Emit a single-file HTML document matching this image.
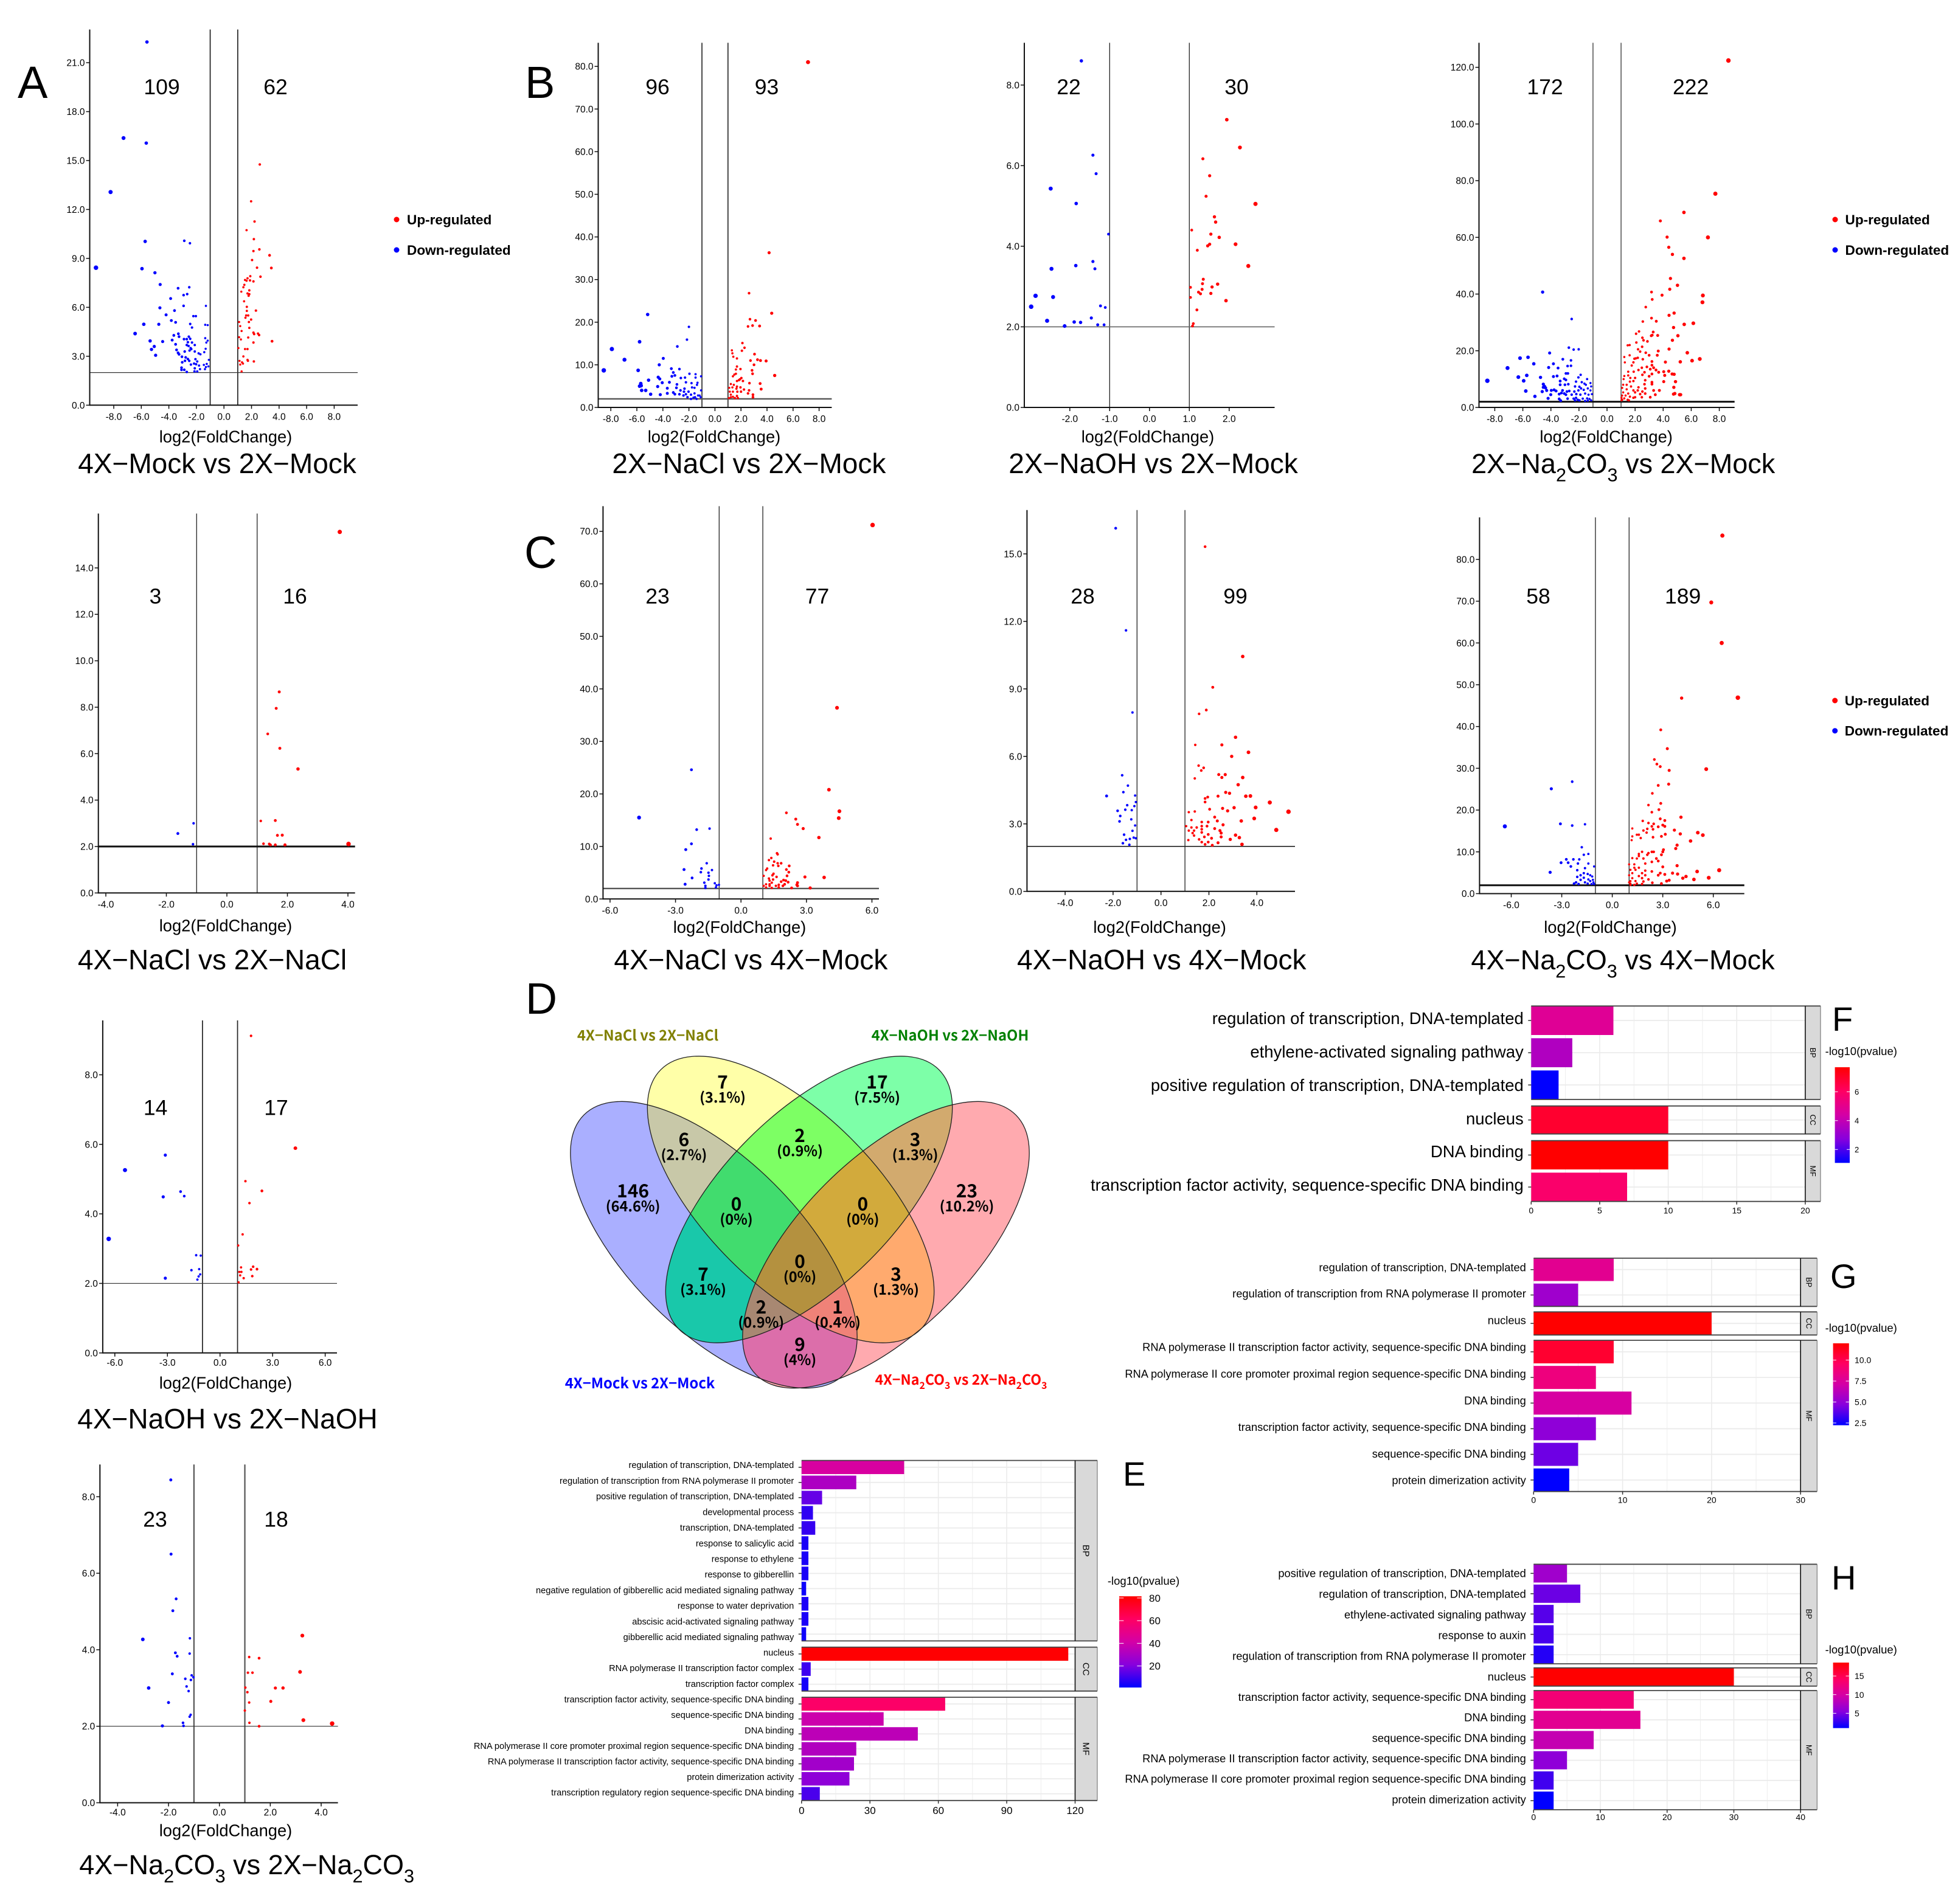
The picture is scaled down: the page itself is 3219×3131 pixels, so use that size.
<!DOCTYPE html>
<html lang="en">
<head>
<meta charset="utf-8">
<title>Volcano plots, Venn diagram and GO enrichment</title>
<style>
html,body{margin:0;padding:0;background:#fff;}
svg{display:block;}
text{font-family:"Liberation Sans",Arial,sans-serif;fill:#000;}
.venn text{font-family:"Noto Sans CJK KR","Liberation Sans",sans-serif;font-weight:700;}
</style>
</head>
<body>
<svg id="figure" xmlns="http://www.w3.org/2000/svg" width="3219" height="3131" viewBox="0 0 3219 3131">
<rect x="0" y="0" width="3219" height="3131" fill="#fff"></rect>
<defs id="defs"></defs>
</svg>
<script>
/* ---------- volcano data: [log2(FoldChange), -log10(p)] ---------- */
const volcanoA_down=[[-5.59,22.27],[-7.29,16.38],[-5.64,16.07],[-8.23,13.07],[-5.72,10.04],[-2.88,10.08],[-2.47,9.93],[-9.29,8.43],[-5.95,8.37],[-5.01,8.12],[-4.63,7.4],[-3.33,7.17],[-2.52,7.23],[-2.67,6.81],[-2.93,6.75],[-3.87,6.54],[-2.93,6.09],[-1.31,6.09],[-4.65,5.97],[-3.59,5.8],[-4.2,5.54],[-2.22,5.46],[-2.04,5.46],[-3.82,5.19],[-3.51,5.08],[-5.82,4.96],[-4.73,4.96],[-2.45,4.98],[-1.36,4.93],[-1.18,4.91],[-2.32,4.76],[-6.45,4.39],[-3.31,4.38],[-3.64,4.28],[-3.26,4.2],[-2.55,4.2],[-2.45,4.07],[-2.9,4.05],[-2.7,4.05],[-3.76,3.99],[-1.36,4.11],[-4.45,3.9],[-5.36,3.94],[-1.18,3.96],[-1.28,3.84],[-2.32,3.84],[-2.62,3.86],[-3.51,3.73],[-2.7,3.69],[-2.12,3.69],[-5.06,3.6],[-2.57,3.63],[-2.42,3.5],[-5.26,3.42],[-1.33,3.46],[-3.44,3.39],[-2.37,3.44],[-2.5,3.35],[-2.85,3.29],[-2.12,3.29],[-1.43,3.25],[-3.33,3.21],[-1.84,3.18],[-3.26,3.12],[-4.96,3.06],[-1.71,3.12],[-3.05,2.97],[-2.78,2.93],[-1.1,2.78],[-2.62,2.83],[-2.07,2.82],[-2.83,2.72],[-3.03,2.63],[-2.52,2.72],[-1.94,2.68],[-2.17,2.55],[-2.4,2.49],[-2.02,2.51],[-1.25,2.53],[-1.81,2.43],[-1.46,2.47],[-1.13,2.38],[-1.31,2.34],[-3.08,2.3],[-2.12,2.26],[-1.38,2.21],[-1.74,2.21],[-3.08,2.17],[-2.88,2.17],[-2.14,2.07],[-1.94,2.07],[-2.7,2.04]];
const volcanoA_up=[[2.6,14.76],[1.97,12.5],[2.22,11.26],[1.64,10.73],[2.17,10.18],[2.57,9.55],[2.14,9.45],[3.31,9.19],[2.04,8.9],[2.4,8.43],[3.44,8.41],[2.65,7.88],[1.91,7.91],[1.71,7.78],[1.53,7.68],[1.64,7.63],[1.89,7.65],[2.14,7.59],[1.48,7.38],[1.41,7.23],[1.26,6.96],[1.84,7.04],[1.71,6.85],[1.84,6.81],[1.79,6.71],[1.46,6.37],[1.66,6.03],[2.32,5.8],[1.66,5.78],[1.61,5.5],[1.76,5.5],[1.56,5.36],[1.97,5.25],[1.1,5.1],[1.81,5.1],[1.18,4.85],[1.84,4.74],[1.28,4.55],[2.14,4.45],[2.47,4.39],[2.19,4.36],[2.55,4.3],[1.1,4.17],[1.76,4.15],[1.23,4.03],[3.49,3.92],[2.14,3.84],[1.05,3.5],[1.53,3.44],[1.71,3.44],[1.41,2.99],[1.13,2.72],[1.71,2.78],[1.74,2.72],[2.17,2.68],[1.31,2.63],[1.18,2.49],[1.38,2.55],[1.28,2.07]];
const volcanoB1_down=[[-8.54,8.7],[-7.92,13.7],[-6.95,11.2],[-5.9,8.7],[-5.79,15.4],[-5.17,21.8],[-5.7,5.6],[-5.67,5.1],[-5.79,5],[-5.63,4],[-5.32,4],[-5.1,6.4],[-4.94,3.1],[-4.28,10],[-3.97,11.5],[-4.36,7.1],[-4.24,6.7],[-4.4,4.9],[-4.05,5.8],[-4.2,3],[-3.66,4.5],[-3.66,3.3],[-3.5,5.9],[-3.35,9.1],[-3.2,8.2],[-3.08,7.5],[-3.31,7.3],[-2.89,14.3],[-2.73,9],[-2.62,6.9],[-2.3,7],[-2.92,5.4],[-2.96,4.6],[-3.2,3.5],[-3.08,3.1],[-2.65,4],[-2.73,3.1],[-2.34,4.4],[-2.23,5.9],[-2.38,3.7],[-2.23,3.1],[-2.42,2.8],[-2.15,15.9],[-2,18.9],[-1.96,7.9],[-1.8,5.7],[-1.76,4.7],[-2.03,3.7],[-1.84,3],[-2.11,2.4],[-1.65,2.3],[-1.84,2],[-1.49,7.8],[-1.49,7],[-1.38,5.3],[-1.57,4.6],[-1.34,5.8],[-1.57,3.3],[-1.53,2.4],[-1.3,2.8],[-1.41,2],[-1.07,7.3],[-1.07,4],[-1.1,2.4],[-1.18,2.8]];
const volcanoB1_up=[[7.15,81],[4.16,36.3],[2.62,26.8],[4.36,22.1],[2.69,20.7],[3.12,20.4],[2.54,19],[2.89,19.2],[3.43,19.1],[2.11,15.1],[2.27,14],[1.3,13.4],[1.34,12.7],[1.41,11.9],[2.07,13.3],[3.04,12.5],[1.69,11.5],[2.73,11],[3.27,11.2],[3.5,11],[3.93,10.9],[3,10],[1.69,9.6],[1.61,8.9],[1.96,9],[2.85,8.7],[2.89,7.9],[4.59,7.5],[1.38,7.3],[1.49,7.7],[1.61,7.9],[3.47,5.6],[2.65,5.7],[1.92,6.6],[2.03,6.9],[1.69,6.2],[2.15,6.2],[1.84,6.4],[1.22,5.5],[1.45,5.3],[1.69,4.9],[1.1,4.6],[1.34,4.7],[1.65,4.4],[1.96,4.7],[2.23,4.2],[2.62,4],[3.55,4.3],[1.14,3.7],[1.38,3.7],[1.72,3.7],[2,3.7],[2.54,3.3],[2.92,3],[1.22,3],[1.69,2.7],[2.92,2.4],[1.22,2.4],[1.38,2.5],[1.76,2.2],[1.07,2.2],[1.53,2.2]];
const volcanoB2_down=[[-1.71,8.6],[-1.42,6.26],[-1.34,5.8],[-2.48,5.43],[-1.84,5.06],[-1.03,4.3],[-1.42,3.62],[-1.85,3.52],[-2.46,3.44],[-1.37,3.44],[-2.86,2.77],[-2.42,2.74],[-2.97,2.5],[-1.23,2.52],[-1.11,2.48],[-2.57,2.15],[-1.46,2.22],[-1.89,2.12],[-1.73,2.11],[-1.3,2.05],[-1.14,2.05],[-2.13,2.02]];
const volcanoB2_up=[[1.94,7.14],[2.27,6.45],[1.34,6.17],[1.51,5.75],[1.42,5.24],[2.66,5.05],[1.63,4.73],[1.66,4.6],[1.06,4.4],[1.54,4.3],[1.75,4.22],[2.16,4.05],[1.51,4.05],[1.46,4.01],[1.2,3.9],[2.48,3.51],[1.35,3.18],[1.33,3.07],[1.71,3.06],[1.57,2.99],[1.03,2.98],[1.32,2.93],[1.23,2.86],[1.28,2.82],[1.54,2.83],[1.03,2.73],[1.92,2.65],[1.19,2.42],[1.1,2.08],[1.08,2.02]];
const volcanoB3_down=[[-8.53,9.4],[-7.09,13.9],[-6.2,17.4],[-5.63,17.7],[-5.22,15.4],[-6.32,10.7],[-5.72,11.3],[-5.94,9.4],[-5.79,5.8],[-5.14,3.9],[-4.59,40.7],[-2.52,31.2],[-4.09,19.2],[-2.72,21.1],[-2.38,20.4],[-2.02,20.5],[-2.57,16.6],[-3.15,17],[-3.82,15.4],[-4.16,14.1],[-3.49,13.9],[-2.81,14.6],[-2.57,14.7],[-2.93,12],[-2.79,12],[-1.88,11.5],[-2.04,10.6],[-4.74,10.6],[-3.82,10.9],[-3.56,11.1],[-3.05,10.1],[-2.93,9.7],[-1.42,10],[-2.21,9.1],[-1.61,8.4],[-1.8,8.9],[-1.51,8],[-1.18,8.6],[-4.54,8.2],[-4.45,7.4],[-4.38,6.9],[-4.54,7.1],[-3.34,9.3],[-3.34,8],[-3,8],[-2.76,8.2],[-2.28,7.4],[-1.97,7.3],[-1.85,6.7],[-1.37,6.7],[-1.13,7.4],[-4.62,5.6],[-4.3,6],[-3.97,6],[-3.77,6.2],[-3.63,5.8],[-3.17,6],[-2.86,5.6],[-2.69,5.8],[-2.33,5.6],[-2.04,6],[-1.66,6.2],[-1.18,6],[-4.01,4.5],[-4.2,3.2],[-3.41,4.7],[-3.05,4.9],[-2.93,4.5],[-3.25,5.1],[-2.52,4.5],[-2.19,4.7],[-1.9,4.5],[-1.56,4.9],[-1.32,4.5],[-1.08,4.7],[-3.41,3],[-2.81,3.1],[-2.38,3.1],[-2.21,3.4],[-2.09,2.7],[-1.73,3.1],[-1.42,3.2],[-1.25,3],[-1.13,2.5],[-2.28,2.5],[-1.97,2.5],[-1.56,2.3],[-1.37,2.4],[-3.3,2.4]];
const volcanoB3_up=[[8.65,122.4],[7.72,75.4],[5.48,68.8],[3.8,65.8],[7.19,60],[4.28,60.1],[4.4,56.5],[4.66,54],[5.48,52.6],[4.52,45.5],[5.02,43.1],[4.47,41.7],[3.17,40.7],[3.92,39.6],[6.83,39.5],[3.22,38.1],[6.8,37.1],[2.76,35.4],[4.78,33.3],[4.42,32.5],[3.17,31.5],[2.55,30.3],[3.51,30.4],[5.5,29.3],[6.15,29.7],[4.74,28.2],[2.28,26.8],[2.07,26],[3.29,26.6],[3.22,25.5],[3.15,25.3],[3.61,25.4],[5.05,25.3],[2.52,24.6],[2.6,23.7],[2.88,23.3],[4.66,23.7],[2.09,22.9],[1.47,21.9],[1.61,22],[4.42,20.6],[2.5,21.4],[2.21,20.5],[2.36,19.7],[3.65,19.9],[5.72,19.3],[2.76,19.3],[3,18.4],[3.58,18.4],[1.61,18.4],[1.23,17.8],[2.04,17.3],[2.19,17.5],[1.95,17.2],[2.55,17],[6.61,17.1],[6.06,16.5],[5.22,16.1],[3.2,16.2],[4.16,16],[1.88,15.9],[1.27,15.9],[3.2,14.9],[1.76,14.8],[2.48,14],[2.84,14.3],[3.08,13.5],[3.32,14],[3.49,13.2],[4.4,12.8],[4.04,12.6],[4.64,11.8],[4.78,11.7],[1.51,12.6],[1.9,12.6],[2.24,13.2],[2.67,12.4],[3.68,12.4],[3.2,11.8],[2.52,11.5],[3,11],[4.11,11.3],[1.23,11.1],[1.51,11.3],[1.66,10.4],[2,10.4],[2.72,9.6],[3.2,8.9],[4.04,9.1],[4.88,9.1],[1.18,10],[1.63,9.1],[1.88,9.3],[2.67,8.2],[3.2,8.2],[4.76,7.1],[1.15,8],[1.4,8],[1.71,7.4],[2.24,7.1],[2.72,6.7],[3.32,6],[3.73,6],[1.08,6.9],[1.4,6.4],[1.88,6],[2.19,6],[2.52,5.6],[4.83,4.9],[4.74,4.7],[5.17,4.5],[5.24,4.5],[1.15,5.3],[1.51,4.9],[2,5.3],[2.36,4.7],[2.72,4.9],[3.08,3.6],[3.44,4.5],[1.08,4.2],[1.32,4.2],[1.63,3.8],[2,3.6],[2.48,3.6],[1.03,3.4],[1.23,3.2],[1.47,2.7],[1.88,3.4],[1.08,2.7],[1.56,2.5],[1.03,2.5]];
const volcanoC0_down=[[-1.62,2.56],[-1.1,3],[-1.12,2.1]];
const volcanoC0_up=[[3.73,15.55],[1.73,8.66],[1.63,7.95],[1.35,6.85],[1.75,6.23],[2.35,5.34],[1.6,3.12],[1.12,3.1],[1.83,2.49],[1.67,2.48],[1.21,2.12],[1.4,2.11],[1.44,2.07],[1.6,2.07],[1.92,2.07],[4.02,2.11]];
const volcanoC1_down=[[-4.67,15.5],[-2.27,24.6],[-1.44,13.4],[-2.03,13.2],[-2.27,10.5],[-2.53,9.4],[-1.57,6.8],[-1.81,5.8],[-2.61,5.6],[-1.33,5.5],[-1.84,5.1],[-1.49,5],[-1.47,4.4],[-2.24,4],[-1.49,3.7],[-1.68,3.1],[-1.2,3],[-2.56,2.8],[-1.01,2.7],[-1.12,2.6],[-1.63,2.5],[-1.63,2.1],[-1.15,2.2]];
const volcanoC1_up=[[6.03,71.2],[4.4,36.4],[4.03,20.8],[4.51,16.7],[4.48,15.4],[2.08,16.4],[2.51,15.2],[2.59,14.2],[2.85,13.4],[3.57,11.7],[1.36,11.5],[1.65,8.7],[1.68,8.5],[1.39,7.8],[1.28,7.4],[1.52,7.1],[1.84,6.8],[1.68,6.8],[1.47,6.4],[1.71,6.3],[2.21,6.3],[1.2,5.8],[1.15,5.5],[2.08,5.6],[2.19,5.1],[1.49,4.8],[1.44,4.5],[2.11,4.4],[1.04,4.4],[2.93,4.2],[3.81,4.1],[1.63,4.2],[1.28,3.9],[1.95,3.6],[1.47,3.7],[1.31,3.5],[1.84,3.3],[2.05,3.5],[1.41,3.1],[2.16,3.2],[2.59,3.1],[1.15,2.8],[1.31,2.8],[1.73,2.7],[2,2.8],[2.56,2.7],[1.04,2.5],[1.31,2.5],[1.6,2.5],[1.92,2.5],[2.59,2.5],[1.15,2.2],[1.41,2.1],[1.73,2.2],[2.32,2.1],[3.17,2.1]];
const volcanoC2_down=[[-1.89,16.14],[-1.46,11.6],[-1.19,7.95],[-1.62,5.16],[-1.38,4.7],[-1.57,4.41],[-2.27,4.24],[-1.08,4.26],[-1.05,3.97],[-1.41,3.83],[-1.11,3.79],[-1.81,3.58],[-1.49,3.63],[-1.22,3.61],[-1.7,3.35],[-1.24,3.2],[-1.73,3.11],[-1.08,2.93],[-1.19,2.69],[-1.54,2.52],[-1.3,2.33],[-1.46,2.29],[-1.14,2.39],[-1.05,2.36],[-1.59,2.14],[-1.32,2.07]];
const volcanoC2_up=[[1.84,15.32],[3.41,10.44],[2.16,9.07],[1.89,8.06],[1.59,7.89],[3.11,6.85],[1.43,6.51],[2.54,6.51],[3.65,6.18],[2.95,6],[1.57,5.59],[1.78,5.49],[1.68,5.37],[2.41,5.19],[2.68,5.19],[2.54,5.06],[3.41,5.06],[1.41,5.02],[3.22,4.74],[2.7,4.4],[2.86,4.36],[3.54,4.23],[3.73,4.24],[2.38,4.23],[1.95,4.19],[1.84,4.13],[1.84,3.97],[4.54,3.95],[3.95,3.73],[2.03,3.65],[3.05,3.72],[2.57,3.69],[2.78,3.58],[5.32,3.54],[1.16,3.52],[1.41,3.55],[2.24,3.3],[2.35,3.13],[3.89,3.24],[3.35,3.13],[1.27,3.17],[1.7,3.08],[1.97,3.08],[2.59,2.96],[1.05,2.9],[1.27,2.84],[1.49,2.84],[1.7,2.9],[1.92,2.9],[1.16,2.7],[1.38,2.7],[1.7,2.76],[2.24,2.79],[2.46,2.7],[4.81,2.73],[1.32,2.59],[1.7,2.62],[2.51,2.59],[1.38,2.48],[1.97,2.53],[3.11,2.5],[2.51,2.42],[1.81,2.42],[3.27,2.39],[1.14,2.28],[1.59,2.31],[2.11,2.36],[2.89,2.31],[2.38,2.16],[1.7,2.19],[1.97,2.19],[1.84,2.09],[3.38,2.09],[2.14,2.05]];
const volcanoC3_down=[[-6.38,16.1],[-3.62,25.1],[-2.38,26.8],[-3.08,16.7],[-2.38,16.3],[-1.62,16.6],[-1.81,11.1],[-1.42,9.5],[-1.69,9.3],[-2.73,8.2],[-2.31,8.2],[-1.96,8.2],[-3.04,7.4],[-2.62,7.4],[-2.04,7.2],[-2.46,6.5],[-1.42,7.2],[-1.08,6.5],[-1.62,6.1],[-2.08,5.6],[-3.69,5.1],[-1.69,4.9],[-1.46,4.7],[-1.88,4.4],[-1.31,4.4],[-2.08,4],[-1.69,3.8],[-1.19,4.1],[-1.88,3.3],[-1.42,3.4],[-1.15,3.3],[-2.15,2.7],[-1.62,2.7],[-1.31,3],[-1.12,2.7],[-2.27,2.4],[-2,2.3],[-1.46,2.4],[-1.23,2.3],[-1.08,2.3]];
const volcanoC3_up=[[6.54,85.7],[5.88,69.7],[6.5,60],[7.46,46.9],[4.12,46.8],[2.88,39.2],[3.27,34.7],[2.5,32.1],[2.65,31],[2.85,30.4],[3.38,29.5],[5.58,29.8],[3.35,26.2],[2.73,25.9],[2.38,24],[2.88,21.6],[2.15,21.2],[2.77,20.1],[4.08,18.3],[2.35,19.5],[1.81,17.4],[2.85,17.9],[3.12,17.5],[2.15,16.9],[2.46,16.7],[1.19,15.6],[3,16.4],[3.12,16.1],[2.73,16],[2.35,16.1],[2.08,15.5],[1.85,15.1],[3.69,15.2],[2.42,15.4],[1.58,14.1],[2.04,14.6],[5.08,14.6],[4.04,14.3],[3.15,14.2],[5.38,14],[1.46,14.1],[1.19,13.7],[2.42,13.5],[2.92,13.7],[1.69,13.3],[1.15,12.8],[4.65,12.6],[3.85,11.6],[3.77,10.8],[3.04,10.5],[3,10],[2.35,10],[2.15,9.7],[1.77,10],[1.58,9.5],[2.46,10],[2.08,9.3],[1.58,9],[2.92,9.3],[1.19,8.5],[1.46,8.4],[1.85,8.4],[2.62,8.4],[2.73,7.8],[2.35,7.6],[1.96,7.2],[1.31,7],[1,7],[3.85,6.7],[3,6.4],[1.31,6.2],[1.58,6.2],[1.08,5.7],[6.35,5.6],[5.04,5.3],[1.96,5.5],[2.35,5.3],[1.38,5.7],[1.19,4.9],[1.77,4.9],[2.85,4.9],[3.58,4.9],[3.88,4.7],[3.12,4.6],[1,4.4],[1.58,4.2],[1.96,4.4],[2.73,4.4],[4.38,4.1],[5.73,3.8],[4.19,3.7],[4.85,3.4],[1.19,3.7],[1.77,3.7],[2.15,3.4],[3.23,3],[1.08,3],[1.38,3],[1.85,2.9],[2.38,2.6],[2.92,2.4],[3.38,3.2],[1.08,2.4],[1.46,2.4],[1.77,2.3],[1,2.7],[1.08,2.1],[1.31,2.1]];
const volcanoD0_down=[[-6.35,3.28],[-5.42,5.26],[-3.12,5.69],[-3.24,4.49],[-2.25,4.64],[-2.04,4.51],[-3.12,2.15],[-1.36,2.81],[-1.1,2.8],[-1.63,2.38],[-1.19,2.41],[-1.13,2.26],[-1.22,2.2],[-1.29,2.11]];
const volcanoD0_up=[[1.77,9.12],[4.3,5.89],[1.45,4.94],[2.39,4.66],[1.68,4.31],[1.29,3.41],[1.04,3.09],[1.2,2.46],[1.89,2.48],[2.11,2.41],[1.77,2.4],[1.1,2.33],[1.22,2.33],[1.15,2.23],[1.84,2.21],[1.35,2.15],[1.06,2.03]];
const volcanoD1_down=[[-1.91,8.44],[-1.9,6.5],[-1.7,5.33],[-1.83,5.02],[-3.01,4.27],[-1.16,4.3],[-1.17,3.9],[-1.73,3.92],[-1.66,3.83],[-1.85,3.37],[-1.09,3.33],[-1.02,3.28],[-1.12,3.21],[-1.34,3.24],[-1.29,3.04],[-2.78,3],[-1.21,2.92],[-2,2.62],[-1.13,2.3],[-1.17,2.25],[-1.43,2.09],[-1.41,2.01],[-2.24,2.01]];
const volcanoD1_up=[[3.26,4.37],[1.17,3.81],[1.56,3.78],[1.12,3.4],[1.3,3.4],[3.17,3.42],[1.02,3.01],[2.2,3],[2.5,3],[1.1,2.89],[1.17,2.62],[2.02,2.65],[1,2.41],[3.3,2.16],[1.18,2.09],[4.43,2.07],[1.56,2]];

/* ---------- tick labels ---------- */
const ticksX8=[-8,-6,-4,-2,0,2,4,6,8];
const ticksX6=[-6,-3,0,3,6];
const ticksX4=[-4,-2,0,2,4];
const ticksXB2=[-2,-1,0,1,2];
const ticksYA=[0,3,6,9,12,15,18,21];
const ticksYB1=[0,10,20,30,40,50,60,70,80];
const ticksYB2=[0,2,4,6,8];
const ticksYB3=[0,20,40,60,80,100,120];
const ticksYC0=[0,2,4,6,8,10,12,14];
const ticksYC1=[0,10,20,30,40,50,60,70];
const ticksYC2=[0,3,6,9,12,15];
const ticksYC3=[0,10,20,30,40,50,60,70,80];

/* ---------- GO enrichment data ---------- */
const barE_termsBP=["regulation of transcription, DNA-templated","regulation of transcription from RNA polymerase II promoter","positive regulation of transcription, DNA-templated","developmental process","transcription, DNA-templated","response to salicylic acid","response to ethylene","response to gibberellin","negative regulation of gibberellic acid mediated signaling pathway","response to water deprivation","abscisic acid-activated signaling pathway","gibberellic acid mediated signaling pathway"];
const barE_countsBP=[45,24,9,5,6,3,3,3,2,3,3,2];
const barE_pBP=[43,31,16,8,9,5,5,5,3,5,5,3];
const barE_termsCC=["nucleus","RNA polymerase II transcription factor complex","transcription factor complex"];
const barE_countsCC=[117,4,3];
const barE_pCC=[81,10,4];
const barE_termsMF=["transcription factor activity, sequence-specific DNA binding","sequence-specific DNA binding","DNA binding","RNA polymerase II core promoter proximal region sequence-specific DNA binding","RNA polymerase II transcription factor activity, sequence-specific DNA binding","protein dimerization activity","transcription regulatory region sequence-specific DNA binding"];
const barE_countsMF=[63,36,51,24,23,21,8];
const barE_pMF=[60,39,35,32,28,23,12];
const barF_termsBP=["regulation of transcription, DNA-templated","ethylene-activated signaling pathway","positive regulation of transcription, DNA-templated"];
const barF_countsBP=[6,3,2];
const barF_pBP=[4.8,3.6,1.07];
const barF_termsCC=["nucleus"];
const barF_countsCC=[10];
const barF_pCC=[6.9];
const barF_termsMF=["DNA binding","transcription factor activity, sequence-specific DNA binding"];
const barF_countsMF=[10,7];
const barF_pMF=[7.7,5.85];
const barG_termsBP=["regulation of transcription, DNA-templated","regulation of transcription from RNA polymerase II promoter"];
const barG_countsBP=[9,5];
const barG_pBP=[7.9,5.4];
const barG_termsCC=["nucleus"];
const barG_countsCC=[20];
const barG_pCC=[12];
const barG_termsMF=["RNA polymerase II transcription factor activity, sequence-specific DNA binding","RNA polymerase II core promoter proximal region sequence-specific DNA binding","DNA binding","transcription factor activity, sequence-specific DNA binding","sequence-specific DNA binding","protein dimerization activity"];
const barG_countsMF=[9,7,11,7,5,4];
const barG_pMF=[10.8,8.6,7.3,4.9,4.2,2.23];
const barH_termsBP=["positive regulation of transcription, DNA-templated","regulation of transcription, DNA-templated","ethylene-activated signaling pathway","response to auxin","regulation of transcription from RNA polymerase II promoter"];
const barH_countsBP=[5,7,3,3,3];
const barH_pBP=[6.8,4.5,3.8,3.3,2.2];
const barH_termsCC=["nucleus"];
const barH_countsCC=[30];
const barH_pCC=[18.6];
const barH_termsMF=["transcription factor activity, sequence-specific DNA binding","DNA binding","sequence-specific DNA binding","RNA polymerase II transcription factor activity, sequence-specific DNA binding","RNA polymerase II core promoter proximal region sequence-specific DNA binding","protein dimerization activity"];
const barH_countsMF=[15,16,9,5,3,3];
const barH_pMF=[13,11.2,8.9,5.8,3.1,1.03];

/* ---------- venn counts ---------- */
const vennCounts=["146","7","17","6","2","3","23","0","0","7","0","3","2","1","9"];
const vennPercents=["(64.6%)","(3.1%)","(7.5%)","(2.7%)","(0.9%)","(1.3%)","(10.2%)","(0%)","(0%)","(3.1%)","(0%)","(1.3%)","(0.9%)","(0.4%)","(4%)"];

/* ---------- drawing helpers ---------- */
const NS="http://www.w3.org/2000/svg";
const root=document.getElementById('figure');
function add(parent,tag,attrs,name,interactable){
  const el=document.createElementNS(NS,tag);
  for(const k in attrs){el.setAttribute(k,attrs[k]);}
  
  
  parent.appendChild(el);
  return el;
}
function label(parent,x,y,str,size,anchor,name,extra){
  const attrs=Object.assign({x:x,y:y,'font-size':size,'text-anchor':anchor||'start'},extra||{});
  const el=add(parent,'text',attrs,name,false);
  el.textContent=str;
  return el;
}
/* title made of [text, isSubscript] runs */
function runs(parent,x,y,parts,size,anchor,name,extra){
  const el=label(parent,x,y,'',size,anchor,name,extra);
  let down=false;
  parts.forEach(function(p){
    const t=document.createElementNS(NS,'tspan');
    t.textContent=p[0];
    if(p[1]){t.setAttribute('font-size',size*0.68);t.setAttribute('dy',size*0.3);down=true;}
    else if(down){t.setAttribute('dy',-size*0.3);down=false;}
    el.appendChild(t);
  });
  return el;
}

/* ---------- panel letters ---------- */
const letters=[["A",29,161,74],["B",863,161,74],["C",862,934,74],["D",864,1667,72],["E",1846,2443,56],["F",3012,1695,56],["G",3009,2118,56],["H",3011,2614,56]];
letters.forEach(function(l){
  label(root,l[1],l[2],l[0],l[3],'start','panel-letter-'+l[0].toLowerCase());
});

/* ---------- volcano plots ---------- */
function volcano(c){
  const g=add(root,'g',{},'volcano-'+c.id,false);
  const sx=function(v){return c.x0+v*c.kx;};
  const sy=function(v){return c.bottom-v*c.ky;};
  const all=c.down.concat(c.up);
  const maxAbs=Math.max.apply(null,all.map(function(p){return Math.abs(p[0]);}));
  /* threshold lines */
  [-1,1].forEach(function(v){
    add(g,'line',{x1:sx(v),x2:sx(v),y1:c.top,y2:c.bottom,stroke:c.vColor||'#222','stroke-width':c.vWidth||1.7},'fold-change-threshold',false);
  });
  add(g,'line',{x1:c.left,x2:c.right,y1:sy(2),y2:sy(2),stroke:c.hColor||'#333','stroke-width':c.hWidth||1.3},'significance-threshold',false);
  /* points */
  [[c.down,'#0000ff','point-down'],[c.up,'#ff0000','point-up']].forEach(function(s){
    s[0].forEach(function(p){
      add(g,'circle',{cx:sx(p[0]),cy:sy(p[1]),r:1.5+2.2*Math.abs(p[0])/maxAbs,fill:s[1]},s[2],false);
    });
  });
  /* axes */
  add(g,'line',{x1:c.left,x2:c.left,y1:c.top,y2:c.bottom+1,stroke:'#111','stroke-width':2},'y-axis',false);
  add(g,'line',{x1:c.left,x2:c.right,y1:c.bottom,y2:c.bottom,stroke:'#111','stroke-width':2},'x-axis',false);
  c.xTicks.forEach(function(v){
    add(g,'line',{x1:sx(v),x2:sx(v),y1:c.bottom,y2:c.bottom+6,stroke:'#111','stroke-width':1.5},'x-tick',false);
    label(g,sx(v),c.bottom+(c.tickGap||24),v.toFixed(1),15.5,'middle','x-tick-label');
  });
  c.yTicks.forEach(function(v){
    add(g,'line',{x1:c.left-6,x2:c.left,y1:sy(v),y2:sy(v),stroke:'#111','stroke-width':1.5},'y-tick',false);
    label(g,c.left-8,sy(v)+5.5,v.toFixed(1),15.5,'end','y-tick-label');
  });
  label(g,c.labelL[0],c.labelY,c.labelL[1],35.5,'middle','down-regulated-count');
  label(g,c.labelR[0],c.labelY,c.labelR[1],35.5,'middle','up-regulated-count');
  label(g,c.xlabel[0],c.xlabel[1],'log2(FoldChange)',27.3,'middle','x-axis-title');
  runs(g,c.title[0],c.title[1],c.title[2],c.titleSize||46,'middle','comparison-title');
  if(c.legend){
    add(g,'circle',{cx:c.legend[0],cy:c.legend[1],r:4.5,fill:'#ff0000'},'legend-up-marker',false);
    label(g,c.legend[2],c.legend[1]+8,'Up-regulated',22.6,'start','legend-up-label',{'font-weight':'700'});
    add(g,'circle',{cx:c.legend[0],cy:c.legend[3],r:4.5,fill:'#0000ff'},'legend-down-marker',false);
    label(g,c.legend[2],c.legend[3]+8,'Down-regulated',22.6,'start','legend-down-label',{'font-weight':'700'});
  }
}
const M='\u2212';
volcano({id:'a',down:volcanoA_down,up:volcanoA_up,left:147.5,right:588,top:48.5,bottom:666.3,x0:368.2,kx:22.65,ky:26.82,xTicks:ticksX8,yTicks:ticksYA,labelL:[266,'109'],labelR:[453,'62'],labelY:155,xlabel:[371,727.5],title:[357,778,[['4X'+M+'Mock vs 2X'+M+'Mock']]],legend:[652,361,669,411]});
volcano({id:'b1',down:volcanoB1_down,up:volcanoB1_up,left:983.5,right:1367.4,top:70.4,bottom:670,x0:1175.4,kx:21.4,ky:7.01,xTicks:ticksX8,yTicks:ticksYB1,labelL:[1081,'96'],labelR:[1260.5,'93'],labelY:155,xlabel:[1174,727.5],title:[1231.4,778,[['2X'+M+'NaCl vs 2X'+M+'Mock']]],vColor:'#555',vWidth:2.2,hColor:'#555',hWidth:2.4});
volcano({id:'b2',down:volcanoB2_down,up:volcanoB2_up,left:1684,right:2095.5,top:70.4,bottom:670,x0:1889.8,kx:65.5,ky:66.27,xTicks:ticksXB2,yTicks:ticksYB2,labelL:[1757,'22'],labelR:[2033,'30'],labelY:155,xlabel:[1887,727.5],title:[1896,778,[['2X'+M+'NaOH vs 2X'+M+'Mock']]],vWidth:1.3,hColor:'#666',hWidth:1.6});
volcano({id:'b3',down:volcanoB3_down,up:volcanoB3_up,left:2431.5,right:2851.7,top:70.4,bottom:670,x0:2642,kx:23.07,ky:4.661,xTicks:ticksX8,yTicks:ticksYB3,labelL:[2540,'172'],labelR:[2779.6,'222'],labelY:155,xlabel:[2640.6,727.5],titleSize:45,title:[2668.7,778,[['2X'+M+'Na'],['2',1],['CO'],['3',1],[' vs 2X'+M+'Mock']]],vWidth:1.2,hColor:'#111',hWidth:3,legend:[3017,361,3033.5,411]});
volcano({id:'c0',down:volcanoC0_down,up:volcanoC0_up,left:161.7,right:583.7,top:844.5,bottom:1468.4,x0:373,kx:49.75,ky:38.18,xTicks:ticksX4,yTicks:ticksYC0,labelL:[255.5,'3'],labelR:[485,'16'],labelY:992.5,xlabel:[371,1531.5],title:[349,1594,[['4X'+M+'NaCl vs 2X'+M+'NaCl']]],vWidth:1.3,hColor:'#111',hWidth:3});
volcano({id:'c1',down:volcanoC1_down,up:volcanoC1_up,left:991.4,right:1445,top:832.4,bottom:1478.3,x0:1218.2,kx:35.88,ky:8.637,xTicks:ticksX6,yTicks:ticksYC1,labelL:[1081,'23'],labelR:[1343.5,'77'],labelY:992.5,xlabel:[1216,1534],title:[1234.4,1594,[['4X'+M+'NaCl vs 4X'+M+'Mock']]],vWidth:1.3,hColor:'#555',hWidth:2.4});
volcano({id:'c2',down:volcanoC2_down,up:volcanoC2_up,left:1688.4,right:2129,top:838.7,bottom:1465.8,x0:1908.7,kx:39.4,ky:37,xTicks:ticksX4,yTicks:ticksYC2,labelL:[1780,'28'],labelR:[2031,'99'],labelY:992.5,xlabel:[1906.6,1534],title:[1909.8,1594,[['4X'+M+'NaOH vs 4X'+M+'Mock']]],vWidth:1.3,hColor:'#222',hWidth:1.6});
volcano({id:'c3',down:volcanoC3_down,up:volcanoC3_up,left:2432.4,right:2867.7,top:850.7,bottom:1469.5,x0:2650.6,kx:27.68,ky:6.87,xTicks:ticksX6,yTicks:ticksYC3,labelL:[2529,'58'],labelR:[2766.6,'189'],labelY:992.5,xlabel:[2647.5,1534],titleSize:45,title:[2668,1594,[['4X'+M+'Na'],['2',1],['CO'],['3',1],[' vs 4X'+M+'Mock']]],vWidth:1.3,hColor:'#111',hWidth:3,legend:[3016.7,1152,3032.7,1201.7]});
volcano({id:'d0',down:volcanoD0_down,up:volcanoD0_up,left:168.9,right:554,top:1678,bottom:2224.8,x0:361.7,kx:28.82,ky:57.17,tickGap:21,xTicks:ticksX6,yTicks:ticksYB2,labelL:[255.6,'14'],labelR:[454,'17'],labelY:1833.5,xlabel:[371,2283.7],title:[374,2349,[['4X'+M+'NaOH vs 2X'+M+'NaOH']]],vWidth:1.7,hWidth:1.2});
volcano({id:'d1',down:volcanoD1_down,up:volcanoD1_up,left:164.3,right:555.6,top:2408.3,bottom:2964.5,x0:360.7,kx:41.83,ky:62.9,tickGap:21,xTicks:ticksX4,yTicks:ticksYB2,labelL:[255,'23'],labelR:[454,'18'],labelY:2510.5,xlabel:[371,3019.7],titleSize:45,title:[405.6,3082,[['4X'+M+'Na'],['2',1],['CO'],['3',1],[' vs 2X'+M+'Na'],['2',1],['CO'],['3',1]]],vColor:'#555',vWidth:2.2,hWidth:1.2});

/* ---------- venn diagram ---------- */
(function(){
  const defs=document.getElementById('defs');
  const g=add(root,'g',{class:'venn'},'venn-diagram',false);
  const A=302,B=141;
  const sets={
    b:{cx:1173.5,cy:2047,rot:45},
    y:{cx:1300,cy:1972.5,rot:45},
    g:{cx:1330,cy:1972.5,rot:-45},
    r:{cx:1456.5,cy:2047,rot:-45}
  };
  Object.keys(sets).forEach(function(k){
    const s=sets[k];
    const clip=add(defs,'clipPath',{id:'venn-clip-'+k},'venn-clip',false);
    add(clip,'ellipse',{cx:s.cx,cy:s.cy,rx:A,ry:B,transform:'rotate('+s.rot+' '+s.cx+' '+s.cy+')'},'venn-clip-shape',false);
  });
  const regions=[
    ['b','#aaafff'],['y','#ffffa8'],['g','#7dffa8'],['r','#ffaaaf'],
    ['by','#c8c8a8'],['yg','#7dff64'],['gr','#d2aa6e'],['bg','#19c8aa'],['yr','#ffaa6e'],['br','#dc6eaa'],
    ['byg','#41dc6e'],['ygr','#d2aa3c'],['bgr','#a88872'],['byr','#f08278'],
    ['bygr','#b4913f']
  ];
  regions.forEach(function(r){
    let parent=g;
    r[0].split('').forEach(function(k){
      parent=add(parent,'g',{'clip-path':'url(#venn-clip-'+k+')'},'venn-region-clip',false);
    });
    add(parent,'rect',{x:900,y:1700,width:830,height:600,fill:r[1]},'venn-region-'+r[0],false);
  });
  Object.keys(sets).forEach(function(k){
    const s=sets[k];
    add(g,'ellipse',{cx:s.cx,cy:s.cy,rx:A,ry:B,transform:'rotate('+s.rot+' '+s.cx+' '+s.cy+')',fill:'none',stroke:'#222','stroke-width':1.3},'venn-outline-'+k,false);
  });
  /* label anchor points in page pixels */
  const px=[1040.6,1188,1442,1124.4,1315,1504.5,1589.4,1210.5,1418.3,1156,1315,1473,1251.3,1377,1315];
  const py=[1958,1779,1779,1873.6,1867,1873.6,1958,1979.3,1979.3,2095,2074,2095,2149,2149,2210.6];
  vennCounts.forEach(function(n,i){
    label(g,px[i],py[i]+11,n,30,'middle','venn-count');
    label(g,px[i],py[i]+34,vennPercents[i],23.5,'middle','venn-percent');
  });
  label(g,1065,1711,'4X'+M+'NaCl vs 2X'+M+'NaCl',23.8,'middle','venn-label-nacl',{style:'fill:#808000'});
  label(g,1562,1711,'4X'+M+'NaOH vs 2X'+M+'NaOH',23.8,'middle','venn-label-naoh',{style:'fill:#008000'});
  label(g,1052,2283,'4X'+M+'Mock vs 2X'+M+'Mock',23.8,'middle','venn-label-mock',{style:'fill:#0000ff'});
  runs(g,1580,2277,[['4X'+M+'Na'],['2',1],['CO'],['3',1],[' vs 2X'+M+'Na'],['2',1],['CO'],['3',1]],23.2,'middle','venn-label-na2co3',{style:'fill:#ff0000'});
})();

/* ---------- GO bar charts ---------- */
const colorStops=[[0,[0,0,255]],[0.25,[136,0,221]],[0.5,[212,0,166]],[0.75,[255,0,98]],[1,[255,0,0]]];
function colorAt(t){
  t=Math.max(0,Math.min(1,t));
  for(let i=1;i<colorStops.length;i++){
    if(t<=colorStops[i][0]){
      const a=colorStops[i-1],b=colorStops[i],f=(t-a[0])/(b[0]-a[0]);
      const c=a[1].map(function(v,j){return Math.round(v+(b[1][j]-v)*f);});
      return 'rgb('+c.join(',')+')';
    }
  }
  return 'rgb(255,0,0)';
}
function goChart(c){
  const g=add(root,'g',{},'go-chart-'+c.id,false);
  const sx=function(v){return c.left+v*(c.right-c.left)/c.xMax;};
  const color=function(v){return colorAt((v-c.pMin)/(c.pMax-c.pMin));};
  c.facets.forEach(function(f){
    const n=f.terms.length,pitch=(f.bottom-f.top)/(n-0.1);
    const fg=add(g,'g',{},'facet-'+f.name.toLowerCase(),false);
    for(let v=0;v<=c.xMax+1e-6;v+=c.xStep/2){
      const major=Math.abs(v/c.xStep-Math.round(v/c.xStep))<1e-6;
      add(fg,'line',{x1:sx(v),x2:sx(v),y1:f.top,y2:f.bottom,stroke:'#ebebeb','stroke-width':major?1.6:0.9},'grid-line-vertical',false);
    }
    f.terms.forEach(function(t,i){
      const cy=f.top+(i+0.45)*pitch;
      add(fg,'line',{x1:c.left,x2:c.right,y1:cy,y2:cy,stroke:'#ebebeb','stroke-width':1.8},'grid-line-horizontal',false);
      add(fg,'rect',{x:c.left,y:cy-pitch*0.45,width:sx(f.counts[i])-c.left,height:pitch*0.9,fill:color(f.p[i])},'bar-'+f.name.toLowerCase(),false);
      add(fg,'line',{x1:c.left-5,x2:c.left,y1:cy,y2:cy,stroke:'#333','stroke-width':1.5},'y-tick',false);
      const ly=n>1?f.labelY[0]+(f.labelY[1]-f.labelY[0])*i/(n-1):f.labelY[0];
      label(fg,c.left-12.5,ly+c.font*0.33,t,c.font,'end','term-label');
    });
    add(fg,'rect',{x:c.right,y:f.top,width:c.strip-c.right,height:f.bottom-f.top,fill:'#d9d9d9'},'facet-strip',false);
    add(fg,'line',{x1:c.left,x2:c.strip,y1:f.top,y2:f.top,stroke:'#444','stroke-width':1.8},'facet-top-border',false);
    add(fg,'line',{x1:c.left,x2:c.strip,y1:f.bottom,y2:f.bottom,stroke:'#444','stroke-width':1.8},'facet-bottom-border',false);
    add(fg,'line',{x1:c.right,x2:c.right,y1:f.top,y2:f.bottom,stroke:'#111','stroke-width':1.6},'facet-right-border',false);
    add(fg,'line',{x1:c.strip,x2:c.strip,y1:f.top,y2:f.bottom,stroke:'#666','stroke-width':1},'strip-edge',false);
    const sxm=(c.right+c.strip)/2,sym=(f.top+f.bottom)/2;
    label(fg,sxm,sym+c.stripFont*0.36,f.name,c.stripFont,'middle','facet-label',{transform:'rotate(90 '+sxm+' '+sym+')'});
  });
  const last=c.facets[c.facets.length-1].bottom;
  for(let v=0;v<=c.xMax+1e-6;v+=c.xStep){
    add(g,'line',{x1:sx(v),x2:sx(v),y1:last,y2:last+5,stroke:'#333','stroke-width':1.5},'x-tick',false);
    label(g,sx(v),last+c.tickY,String(v),c.tickFont,'middle','x-tick-label');
  }
  /* legend */
  const gid='grad-'+c.id;
  const grad=add(document.getElementById('defs'),'linearGradient',{id:gid,x1:0,x2:0,y1:1,y2:0},'colorbar-gradient',false);
  colorStops.forEach(function(s){
    const col='rgb('+s[1].join(',')+')';
    add(grad,'stop',{offset:s[0],'stop-color':col},'colorbar-stop',false);
  });
  const L=c.legend;
  label(g,L.titleX,L.titleY,'-log10(pvalue)',18.5,'middle','legend-title');
  add(g,'rect',{x:L.x1,y:L.y1,width:L.x2-L.x1,height:L.y2-L.y1,fill:'url(#'+gid+')'},'colorbar',false);
  const ly=function(v){return L.y2-(v-c.pMin)/(c.pMax-c.pMin)*(L.y2-L.y1);};
  L.ticks.forEach(function(v){
    const y=ly(v),w=(L.x2-L.x1)*0.2;
    add(g,'line',{x1:L.x1,x2:L.x1+w,y1:y,y2:y,stroke:'#fff','stroke-width':1},'colorbar-tick',false);
    add(g,'line',{x1:L.x2-w,x2:L.x2,y1:y,y2:y,stroke:'#fff','stroke-width':1},'colorbar-tick',false);
    label(g,L.labelX,y+L.font*0.36,L.fmt?v.toFixed(1):String(v),L.font,'start','colorbar-label');
  });
}
goChart({id:'e',left:1317.8,right:1767.5,strip:1804,xMax:120,xStep:30,font:14.6,stripFont:15,tickFont:17,tickY:22,pMin:1,pMax:81.5,
  facets:[
    {name:'BP',top:2401.6,bottom:2698.4,labelY:[2409.4,2692.2],terms:barE_termsBP,counts:barE_countsBP,p:barE_pBP},
    {name:'CC',top:2708.6,bottom:2780.8,labelY:[2717.6,2769],terms:barE_termsCC,counts:barE_countsCC,p:barE_pCC},
    {name:'MF',top:2791,bottom:2960.8,labelY:[2794.7,2947.8],terms:barE_termsMF,counts:barE_countsMF,p:barE_pMF}],
  legend:{titleX:1880,titleY:2606,x1:1840,x2:1876.7,y1:2625,y2:2775,labelX:1889,font:17,ticks:[20,40,60,80]}});
goChart({id:'f',left:2517.3,right:2967.9,strip:2993,xMax:20,xStep:5,font:27.5,stripFont:12.5,tickFont:14,tickY:20,pMin:1.07,pMax:7.7,
  facets:[
    {name:'BP',top:1654.3,bottom:1808,labelY:[1675,1785],terms:barF_termsBP,counts:barF_countsBP,p:barF_pBP},
    {name:'CC',top:1818.7,bottom:1864.7,labelY:[1840],terms:barF_termsCC,counts:barF_countsCC,p:barF_pCC},
    {name:'MF',top:1875.7,bottom:1975.7,labelY:[1894,1949],terms:barF_termsMF,counts:barF_countsMF,p:barF_pMF}],
  legend:{titleX:3059.8,titleY:1735,x1:3016.6,x2:3041,y1:1755,y2:1912.3,labelX:3049,font:13,ticks:[2,4,6]}});
goChart({id:'g',left:2521.3,right:2960.2,strip:2987.3,xMax:30,xStep:10,font:18.3,stripFont:12.5,tickFont:14,tickY:19,pMin:2.23,pMax:12,
  facets:[
    {name:'BP',top:2069,bottom:2148.3,labelY:[2084.3,2127.3],terms:barG_termsBP,counts:barG_countsBP,p:barG_pBP},
    {name:'CC',top:2157.3,bottom:2195.3,labelY:[2171.7],terms:barG_termsCC,counts:barG_countsCC,p:barG_pCC},
    {name:'MF',top:2204,bottom:2452.7,labelY:[2215.7,2434.7],terms:barG_termsMF,counts:barG_countsMF,p:barG_pMF}],
  legend:{titleX:3059.7,titleY:2190,x1:3013.6,x2:3039.8,y1:2209,y2:2343.7,labelX:3049,font:14,fmt:true,ticks:[2.5,5,7.5,10]}});
goChart({id:'h',left:2521.3,right:2960.2,strip:2987.3,xMax:40,xStep:10,font:18.3,stripFont:12.5,tickFont:14,tickY:17,pMin:1.03,pMax:18.6,
  facets:[
    {name:'BP',top:2572.3,bottom:2736,labelY:[2587.7,2723.3],terms:barH_termsBP,counts:barH_countsBP,p:barH_pBP},
    {name:'CC',top:2742.7,bottom:2772.7,labelY:[2757.3],terms:barH_termsCC,counts:barH_countsCC,p:barH_pCC},
    {name:'MF',top:2780,bottom:2976,labelY:[2791,2959.3],terms:barH_termsMF,counts:barH_countsMF,p:barH_pMF}],
  legend:{titleX:3059.7,titleY:2719,x1:3013.6,x2:3039.8,y1:2734,y2:2841.7,labelX:3049,font:14,ticks:[5,10,15]}});
</script>
</body>
</html>
